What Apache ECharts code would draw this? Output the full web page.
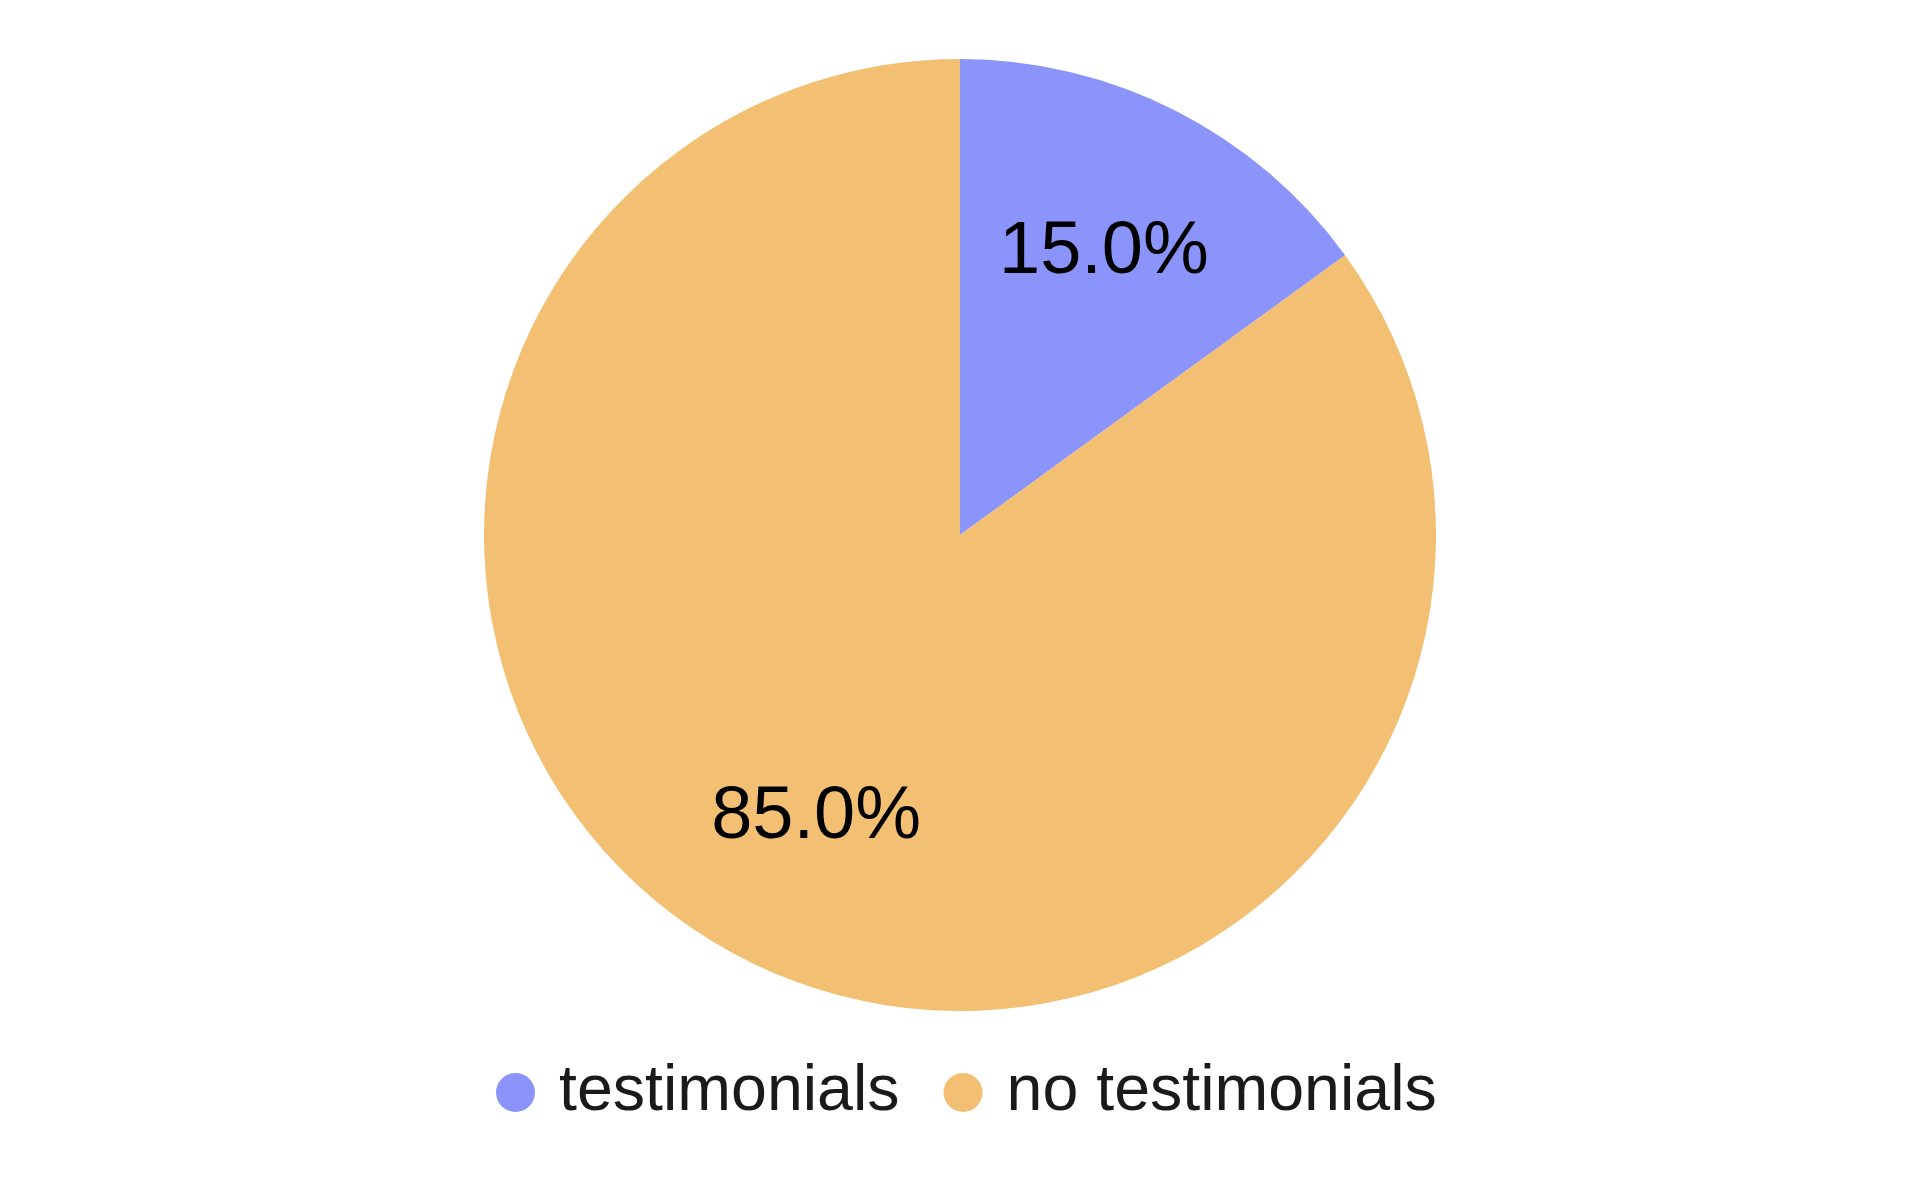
<!DOCTYPE html>
<html>
<head>
<meta charset="utf-8">
<script src="https://cdn.jsdelivr.net/npm/echarts@6/dist/echarts.min.js"></script>
<style>
html,body{margin:0;padding:0;background:#fff;}
#chart{width:1920px;height:1187px;}
</style>
</head>
<body>
<div id="chart"></div>
<script>
const categories = ['testimonials', 'no testimonials'];
const values = [15, 85];
const colors = ['#8A94FB', '#F3BF72'];

const pieData = categories.map((c, i) => ({ name: c, value: values[i], itemStyle: { color: colors[i] } }));
const total = values.reduce((a, b) => a + b, 0);

const chart = echarts.init(document.getElementById('chart'), null, { renderer: 'canvas' });
chart.setOption({
  animation: false,
  backgroundColor: '#ffffff',
  legend: {
    data: categories,
    left: 491,
    top: 1055,
    icon: 'circle',
    itemWidth: 39,
    itemHeight: 39,
    itemGap: 44,
    textStyle: {
      fontFamily: 'Liberation Sans, Arial, sans-serif',
      fontSize: 64.5,
      color: '#1a1a1a',
      padding: [0, 0, 0, 19]
    }
  },
  series: [
    {
      type: 'pie',
      center: [960, 535],
      radius: [0, 476],
      startAngle: 90,
      clockwise: true,
      label: { show: false },
      labelLine: { show: false },
      emphasis: { disabled: true },
      data: pieData
    },
    {
      type: 'pie',
      center: [960, 535],
      radius: [152, 476],
      startAngle: 90,
      clockwise: true,
      silent: true,
      legendHoverLink: false,
      itemStyle: { color: 'rgba(0,0,0,0)' },
      emphasis: { disabled: true },
      labelLine: { show: false },
      label: {
        show: true,
        position: 'inside',
        fontFamily: 'Liberation Sans, Arial, sans-serif',
        fontSize: 74,
        color: '#000000',
        formatter: p => (p.value / total * 100).toFixed(1) + '%'
      },
      data: categories.map((c, i) => ({ name: c, value: values[i] }))
    }
  ]
});
</script>
</body>
</html>
